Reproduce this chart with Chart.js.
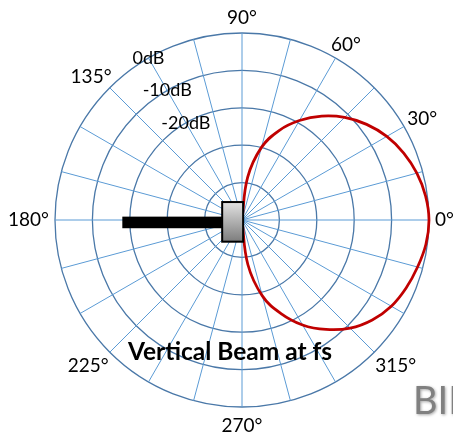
<!DOCTYPE html>
<html>
<head>
<meta charset="utf-8">
<script src="https://cdn.jsdelivr.net/npm/chart.js@4.4.1/dist/chart.umd.min.js"></script>
<style>
  html, body { margin: 0; padding: 0; background: #fff; }
  #wrap { width: 453px; height: 437px; }
</style>
</head>
<body>
<div id="wrap"><canvas id="chartBeam" width="453" height="437"></canvas></div>
<script>
// angulo del haz (grados, 0 = frente) y nivel (dB)
const beamAngles = [-90, -82.5, -75, -67.5, -60, -52.5, -45, -37.5, -30, -22.5, -15, -7.5, 0,
  7.5, 15, 22.5, 30, 37.5, 45, 52.5, 60, 67.5, 75, 82.5, 90];
const beamDb = [-50, -38, -29, -23, -17.6, -13.1, -9.1, -6.1, -3.9, -2.5, -1.4, -0.4, 0,
  -0.5, -1.6, -3.2, -5.3, -8, -11.2, -15, -19.3, -24.1, -29.9, -38.5, -50];

const angleLabels = [0, 30, 60, 90, 135, 180, 225, 270, 315];
const dbLevels = [0, -10, -20];
const dbLabels = ["0dB", "-10dB", "-20dB"];
const titulo = "Vertical Beam at fs";
const marca = "BII";

const PASO = 7.5;      // separacion entre categorias
const PISO = -50;      // centro del grafico

/* categorias en el orden del radar: desde arriba (90°) en sentido horario */
const categorias = [];
for (let i = 0; i < 360 / PASO; i++) {
  categorias.push((90 - i * PASO + 360) % 360);
}

const valores = categorias.map((a) => {
  const s = a > 180 ? a - 360 : a;
  const k = beamAngles.indexOf(s);
  return k >= 0 ? beamDb[k] : PISO;
});

const indiceDe = (grados) => (((90 - grados) / PASO) % categorias.length + categorias.length) % categorias.length;

// microfono en unidades de dB del eje radial, relativo al centro
const micBarra = { x1: -32, x2: -5.3, y1: -0.9, y2: 2.2 };
const micCaja = { x1: -5.3, x2: 0.3, y1: -4.8, y2: 5.8 };

const textos = {
  id: "textos",
  afterDatasetsDraw(chart) {
    const r = chart.scales.r;
    const ctx = chart.ctx;
    const u = r.drawingArea / (r.max - r.min);
    const cx = r.xCenter;
    const cy = r.yCenter;

    ctx.save();
    // barra
    ctx.fillStyle = "#000";
    ctx.fillRect(cx + micBarra.x1 * u, cy + micBarra.y1 * u, (micBarra.x2 - micBarra.x1) * u, (micBarra.y2 - micBarra.y1) * u);
    // caja
    const bx = cx + micCaja.x1 * u;
    const by = cy + micCaja.y1 * u;
    const bw = (micCaja.x2 - micCaja.x1) * u;
    const bh = (micCaja.y2 - micCaja.y1) * u;
    const grad = ctx.createLinearGradient(0, by, 0, by + bh);
    grad.addColorStop(0, "#e2e2e2");
    grad.addColorStop(1, "#7c7c7c");
    ctx.fillStyle = grad;
    ctx.fillRect(bx, by, bw, bh);
    ctx.lineWidth = 2;
    ctx.strokeStyle = "#000";
    ctx.strokeRect(bx, by, bw, bh);
    ctx.restore();
  },
  afterDraw(chart) {
    const r = chart.scales.r;
    const ctx = chart.ctx;
    ctx.save();
    ctx.fillStyle = "#000";
    ctx.textAlign = "center";
    ctx.textBaseline = "middle";

    // etiquetas de angulo
    ctx.font = "19px Lato";
    angleLabels.forEach((a) => {
      const txt = a + "°";
      const rad = a * Math.PI / 180;
      const extra = Math.sin(rad) < -0.1 ? 4 : 0;
      const p = r.getPointPosition(indiceDe(a), r.drawingArea + 6 + extra);
      const hw = ctx.measureText(txt).width / 2;
      ctx.fillText(txt, p.x + hw * Math.cos(rad), p.y - 9 * Math.sin(rad));
    });

    // etiquetas dB a lo largo de 120°
    ctx.font = "18px Lato";
    dbLevels.forEach((v, i) => {
      const p = r.getPointPosition(indiceDe(120), r.getDistanceFromCenterForValue(v));
      ctx.fillText(dbLabels[i], p.x, p.y);
    });

    // titulo
    ctx.font = "bold 24.5px Lato";
    ctx.textBaseline = "alphabetic";
    ctx.fillText(titulo, r.xCenter - 12, r.yCenter + 140);

    // marca
    ctx.font = "38px Lato";
    ctx.textAlign = "left";
    ctx.fillStyle = "#808080";
    ctx.shadowColor = "rgba(0,0,0,0.35)";
    ctx.shadowBlur = 3;
    ctx.shadowOffsetX = 1;
    ctx.shadowOffsetY = 1;
    ctx.fillText(marca, 413, 414);
    ctx.restore();
  },
};

const chartBeam = new Chart(document.getElementById("chartBeam").getContext("2d"), {
  type: "radar",
  data: {
    labels: categorias,
    datasets: [
      {
        label: titulo,
        data: valores,
        borderColor: "#c00000",
        borderWidth: 2.75,
        fill: false,
        pointRadius: 0,
        tension: 0.4,
      },
    ],
  },
  options: {
    responsive: false,
    animation: false,
    layout: { padding: { left: 55, right: 24, top: 33, bottom: 30 } },
    plugins: {
      legend: { display: false },
      tooltip: { enabled: false },
    },
    scales: {
      r: {
        min: PISO,
        max: 0,
        ticks: { display: false, stepSize: 10 },
        pointLabels: { display: false },
        grid: { circular: true, color: "#4a78a8", lineWidth: 1.3 },
        angleLines: {
          color: "#5b9bd5",
          lineWidth: (ctx) => (ctx.index % 2 === 0 ? 1 : 0),
        },
      },
    },
  },
  plugins: [textos],
});
</script>
</body>
</html>
